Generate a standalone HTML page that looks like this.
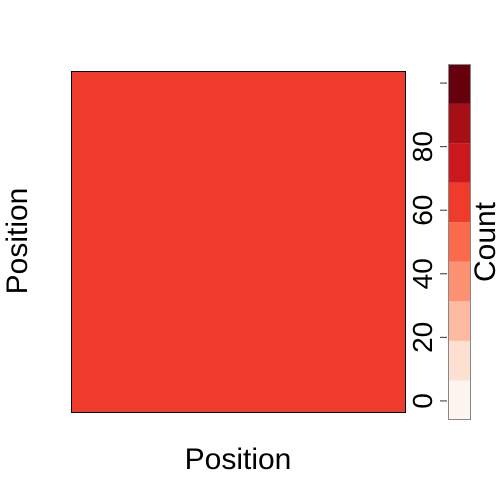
<!DOCTYPE html>
<html><head><meta charset="utf-8">
<style>
html,body{margin:0;padding:0;background:#fff;}
svg{display:block;font-family:"Liberation Sans",Arial,sans-serif;}
</style></head>
<body>
<svg id="chart" width="500" height="500" viewBox="0 0 500 500">
  <g id="plot-area"></g>
  <text x="238" y="469" font-size="30" text-anchor="middle">Position</text>
  <text x="0" y="0" font-size="30" text-anchor="middle" transform="translate(27,241) rotate(-90)">Position</text>
  <g id="legend-area"></g>
  <text x="0" y="0" font-size="30" text-anchor="middle" transform="translate(495,242) rotate(-90)">Count</text>
</svg>
<script>
var bandColors = ["#FFF5F0","#FEE0D2","#FCBBA1","#FC9272","#FB6A4A","#EF3B2C","#CB181D","#A50F15","#67000D"];
var legendRange = [-6, 106];
var tickValues = [0,20,40,60,80,100];
var tickLabels = ["0","20","40","60","80",""];
var cellValues = [65];

function draw(){
  var SVGNS="http://www.w3.org/2000/svg";
  var legTop=64, legBot=420, legX=448, legW=23;
  var lmin=legendRange[0], lmax=legendRange[1];
  function yScale(v){return legBot-(v-lmin)/(lmax-lmin)*(legBot-legTop);}
  function colorFor(v){var i=Math.floor((v-lmin)/(lmax-lmin)*bandColors.length);i=Math.max(0,Math.min(bandColors.length-1,i));return bandColors[i];}

  var plotG=document.getElementById('plot-area');
  cellValues.forEach(function(val){
    var cell=document.createElementNS(SVGNS,'rect');
    cell.setAttribute('x','71.5');cell.setAttribute('y','71.5');cell.setAttribute('width','334');cell.setAttribute('height','341');
    cell.setAttribute('fill',colorFor(val));cell.setAttribute('stroke','#000');cell.setAttribute('stroke-width','1');
    
    
    plotG.appendChild(cell);
  });

  var legG=document.getElementById('legend-area');
  var bandStep=(lmax-lmin)/bandColors.length;
  bandColors.forEach(function(c,i){
    var lo=lmin+i*bandStep, hi=lo+bandStep;
    var r=document.createElementNS(SVGNS,'rect');
    r.setAttribute('x',legX);r.setAttribute('y',yScale(hi));r.setAttribute('width',legW);r.setAttribute('height',yScale(lo)-yScale(hi));
    r.setAttribute('fill',c);
    
    
    legG.appendChild(r);
  });
  var bd=document.createElementNS(SVGNS,'rect');
  bd.setAttribute('x',legX+0.5);bd.setAttribute('y',legTop+0.5);bd.setAttribute('width',legW-1);bd.setAttribute('height',legBot-legTop-1);
  bd.setAttribute('fill','none');bd.setAttribute('stroke','#888');
  
  
  legG.appendChild(bd);
  tickValues.forEach(function(v,i){
    var y=yScale(v);
    var t=document.createElementNS(SVGNS,'line');
    t.setAttribute('x1','440');t.setAttribute('x2','447');t.setAttribute('y1',y);t.setAttribute('y2',y);
    t.setAttribute('stroke','#333');t.setAttribute('stroke-width','1');
    
    
    legG.appendChild(t);
    if(tickLabels[i]){
      var tx=document.createElementNS(SVGNS,'text');
      tx.setAttribute('transform','translate(432,'+y+') rotate(-90)');
      tx.setAttribute('text-anchor','middle');tx.setAttribute('font-size','28');
      tx.textContent=tickLabels[i];
      
      
      legG.appendChild(tx);
    }
  });
}
try{draw();}catch(e){console.error(e);}
</script>
</body></html>
